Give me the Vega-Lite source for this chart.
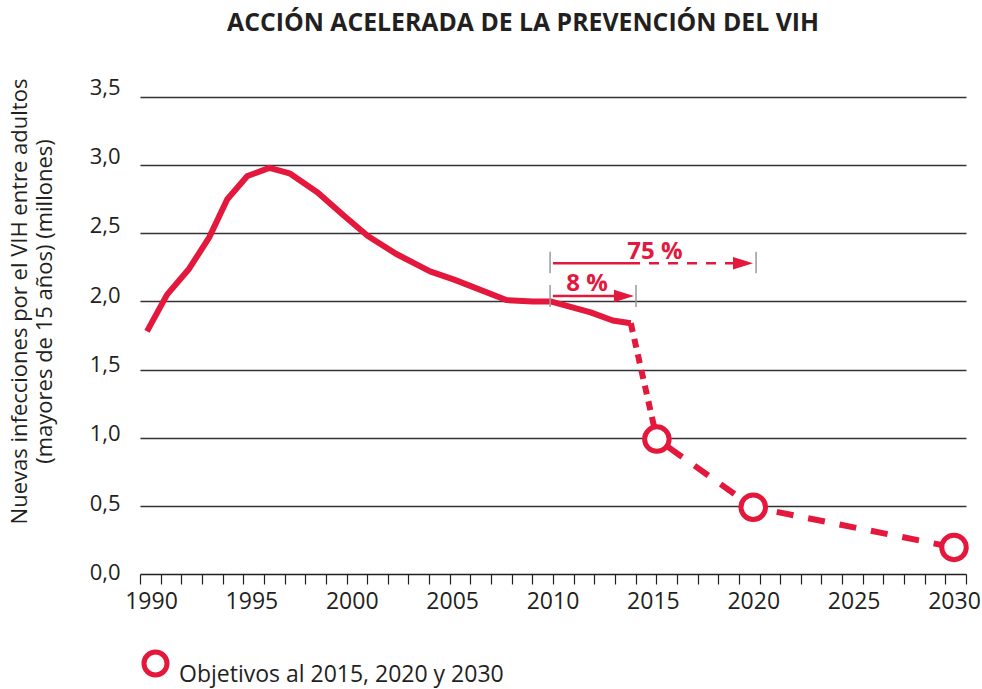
{
  "$schema": "https://vega.github.io/schema/vega-lite/v6.json",
  "width": 826,
  "height": 477,
  "autosize": {"type": "none"},
  "padding": {"left": 140, "top": 97, "right": 16, "bottom": 115},
  "background": "white",
  "title": {
    "text": "ACCIÓN ACELERADA DE LA PREVENCIÓN DEL VIH",
    "fontSize": 24.8,
    "fontWeight": "bold",
    "color": "#231f20",
    "font": "Open Sans",
    "anchor": "middle",
    "dx": -30,
    "offset": 40
  },
  "config": {
    "font": "Open Sans",
    "view": {"stroke": null},
    "axis": {"labelFont": "Open Sans", "titleFont": "Open Sans", "labelColor": "#231f20", "titleColor": "#231f20"}
  },
  "datasets": {
    "historico": [
      {"anio": 1989.8, "valor": 1.78},
      {"anio": 1990.8, "valor": 2.05},
      {"anio": 1991.9, "valor": 2.24},
      {"anio": 1992.9, "valor": 2.47},
      {"anio": 1993.8, "valor": 2.75},
      {"anio": 1994.8, "valor": 2.92},
      {"anio": 1995.9, "valor": 2.98},
      {"anio": 1996.9, "valor": 2.94},
      {"anio": 1998.3, "valor": 2.8},
      {"anio": 1999.6, "valor": 2.63},
      {"anio": 2000.8, "valor": 2.48},
      {"anio": 2002.2, "valor": 2.35},
      {"anio": 2003.9, "valor": 2.22},
      {"anio": 2005.1, "valor": 2.16},
      {"anio": 2007.7, "valor": 2.01},
      {"anio": 2009.0, "valor": 2.0},
      {"anio": 2009.9, "valor": 2.0},
      {"anio": 2011.9, "valor": 1.92},
      {"anio": 2013.0, "valor": 1.86},
      {"anio": 2013.9, "valor": 1.84}
    ],
    "caida": [
      {"anio": 2013.9, "valor": 1.84},
      {"anio": 2015.2, "valor": 0.99}
    ],
    "objetivos": [
      {"anio": 2015.2, "valor": 0.99},
      {"anio": 2020.0, "valor": 0.49},
      {"anio": 2030.0, "valor": 0.195}
    ],
    "flechas": [
      {"id": "8", "x1": 2010.02, "x2": 2013.6, "y": 2.04, "tipo": "solido"},
      {"id": "75a", "x1": 2010.02, "x2": 2013.86, "y": 2.28, "tipo": "solido"},
      {"id": "75b", "x1": 2013.86, "x2": 2019.5, "y": 2.28, "tipo": "discontinuo"}
    ],
    "puntas": [
      {"id": "8", "x": 2013.56, "y": 2.04},
      {"id": "75", "x": 2019.49, "y": 2.28}
    ],
    "marcas": [
      {"x": 2009.88, "y1": 1.96, "y2": 2.12},
      {"x": 2014.16, "y1": 1.96, "y2": 2.12},
      {"x": 2009.88, "y1": 2.206, "y2": 2.364},
      {"x": 2020.14, "y1": 2.206, "y2": 2.364}
    ],
    "etiquetas": [
      {"texto": "8 %", "x": 2011.72, "y": 2.078},
      {"texto": "75 %", "x": 2015.1, "y": 2.309}
    ],
    "extremos": [
      {"anio": 1990, "valor": 0},
      {"anio": 2030, "valor": 3.5}
    ]
  },
  "layer": [
    {
      "data": {"name": "extremos"},
      "mark": {"type": "point", "opacity": 0},
      "encoding": {
        "x": {
          "field": "anio",
          "type": "quantitative",
          "scale": {"domain": [1990, 2030], "nice": false, "zero": false},
          "axis": {
            "orient": "bottom",
            "values": [1990,1991,1992,1993,1994,1995,1996,1997,1998,1999,2000,2001,2002,2003,2004,2005,2006,2007,2008,2009,2010,2011,2012,2013,2014,2015,2016,2017,2018,2019,2020,2021,2022,2023,2024,2025,2026,2027,2028,2029,2030],
            "labels": false,
            "ticks": true,
            "tickSize": 10,
            "tickColor": "#231f20",
            "tickWidth": 1.2,
            "domain": true,
            "domainColor": "#231f20",
            "domainWidth": 1.5,
            "grid": false,
            "title": null
          }
        },
        "y": {
          "field": "valor",
          "type": "quantitative",
          "scale": {"domain": [0, 3.5], "range": [475.5, -10], "nice": false, "zero": false},
          "axis": {
            "orient": "left",
            "values": [0, 0.5, 1, 1.5, 2, 2.5, 3, 3.5],
            "labelExpr": "replace(format(datum.value, '.1f'), '.', ',')",
            "domain": false,
            "ticks": false,
            "tickSize": 0,
            "grid": false,
            "labelFontSize": 22,
            "labelPadding": 20,
            "labelBaseline": "middle",
            "title": ["Nuevas infecciones por el VIH entre adultos", "(mayores de  15 años) (millones)"],
            "titleFontSize": 22,
            "titleFontWeight": "normal",
            "titleLineHeight": 25,
            "titleAngle": -90,
            "titleAlign": "center",
            "titleBaseline": "top",
            "titleX": -131,
            "titleY": 204
          }
        }
      }
    },
    {
      "encoding": {
        "x": {
          "type": "quantitative",
          "scale": {"domain": [1989.452, 2030.598], "nice": false, "zero": false}
        },
        "y": {
          "type": "quantitative",
          "scale": {"domain": [0, 3.5], "nice": false, "zero": false}
        }
      },
      "layer": [
        {
          "data": {"name": "historico"},
          "mark": {"type": "line", "color": "#e4183c", "strokeWidth": 6, "strokeJoin": "round", "strokeCap": "butt"},
          "encoding": {
            "x": {
              "field": "anio",
              "type": "quantitative",
              "axis": {
                "orient": "bottom",
                "values": [1990, 1995, 2000, 2005, 2010, 2015, 2020, 2025, 2030],
                "format": "d",
                "ticks": false,
                "tickSize": 0,
                "domain": false,
                "grid": false,
                "labelFontSize": 23,
                "labelPadding": 16,
                "labelBaseline": "top",
                "title": null
              }
            },
            "y": {
              "field": "valor",
              "type": "quantitative",
              "axis": {
                "orient": "left",
                "values": [0.5, 1, 1.5, 2, 2.5, 3, 3.5],
                "labels": false,
                "domain": false,
                "ticks": false,
                "tickSize": 0,
                "grid": true,
                "gridColor": "#333333",
                "gridWidth": 1.3,
                "title": null
              }
            }
          }
        },
        {
          "data": {"name": "caida"},
          "mark": {"type": "line", "color": "#e4183c", "strokeWidth": 6, "strokeDash": [9, 7]},
          "encoding": {
            "x": {"field": "anio", "type": "quantitative"},
            "y": {"field": "valor", "type": "quantitative"}
          }
        },
        {
          "data": {"name": "objetivos"},
          "mark": {"type": "line", "color": "#e4183c", "strokeWidth": 6, "strokeDash": [17, 15], "strokeDashOffset": -14},
          "encoding": {
            "x": {"field": "anio", "type": "quantitative"},
            "y": {"field": "valor", "type": "quantitative"}
          }
        },
        {
          "data": {"name": "marcas"},
          "mark": {"type": "rule", "color": "#9a9a9a", "strokeWidth": 1.5},
          "encoding": {
            "x": {"field": "x", "type": "quantitative"},
            "y": {"field": "y1", "type": "quantitative"},
            "y2": {"field": "y2"}
          }
        },
        {
          "data": {"name": "flechas"},
          "mark": {"type": "rule", "color": "#e4183c", "strokeWidth": 2.5},
          "encoding": {
            "x": {"field": "x1", "type": "quantitative"},
            "x2": {"field": "x2"},
            "y": {"field": "y", "type": "quantitative"},
            "strokeDash": {
              "field": "tipo",
              "type": "nominal",
              "scale": {"domain": ["solido", "discontinuo"], "range": [[1, 0], [10, 9]]},
              "legend": null
            }
          }
        },
        {
          "data": {"name": "puntas"},
          "mark": {"type": "point", "shape": "M-1,-0.63L1,0L-1,0.63Z", "filled": true, "color": "#e4183c", "size": 400, "opacity": 1},
          "encoding": {
            "x": {"field": "x", "type": "quantitative"},
            "y": {"field": "y", "type": "quantitative"}
          }
        },
        {
          "data": {"name": "etiquetas"},
          "mark": {"type": "text", "color": "#e4183c", "fontSize": 24, "fontWeight": "bold", "font": "Open Sans", "align": "center", "baseline": "alphabetic"},
          "encoding": {
            "x": {"field": "x", "type": "quantitative"},
            "y": {"field": "y", "type": "quantitative"},
            "text": {"field": "texto"}
          }
        },
        {
          "data": {"name": "objetivos"},
          "mark": {"type": "point", "shape": "circle", "filled": true, "fill": "white", "size": 600, "strokeWidth": 5, "opacity": 1},
          "encoding": {
            "x": {"field": "anio", "type": "quantitative"},
            "y": {"field": "valor", "type": "quantitative"},
            "stroke": {
              "datum": "Objetivos al 2015, 2020 y 2030",
              "type": "nominal",
              "scale": {"range": ["#e4183c"]},
              "legend": {
                "orient": "none",
                "legendX": 1,
                "legendY": 552,
                "title": null,
                "padding": 0,
                "symbolType": "circle",
                "symbolSize": 530,
                "symbolStrokeWidth": 5,
                "symbolFillColor": "white",
                "labelFontSize": 23,
                "labelFont": "Open Sans",
                "labelColor": "#231f20",
                "labelBaseline": "top",
                "labelOffset": 9,
                "labelLimit": 0
              }
            }
          }
        }
      ]
    }
  ],
  "resolve": {"scale": {"x": "independent", "y": "independent"}, "axis": {"x": "independent", "y": "independent"}}
}
